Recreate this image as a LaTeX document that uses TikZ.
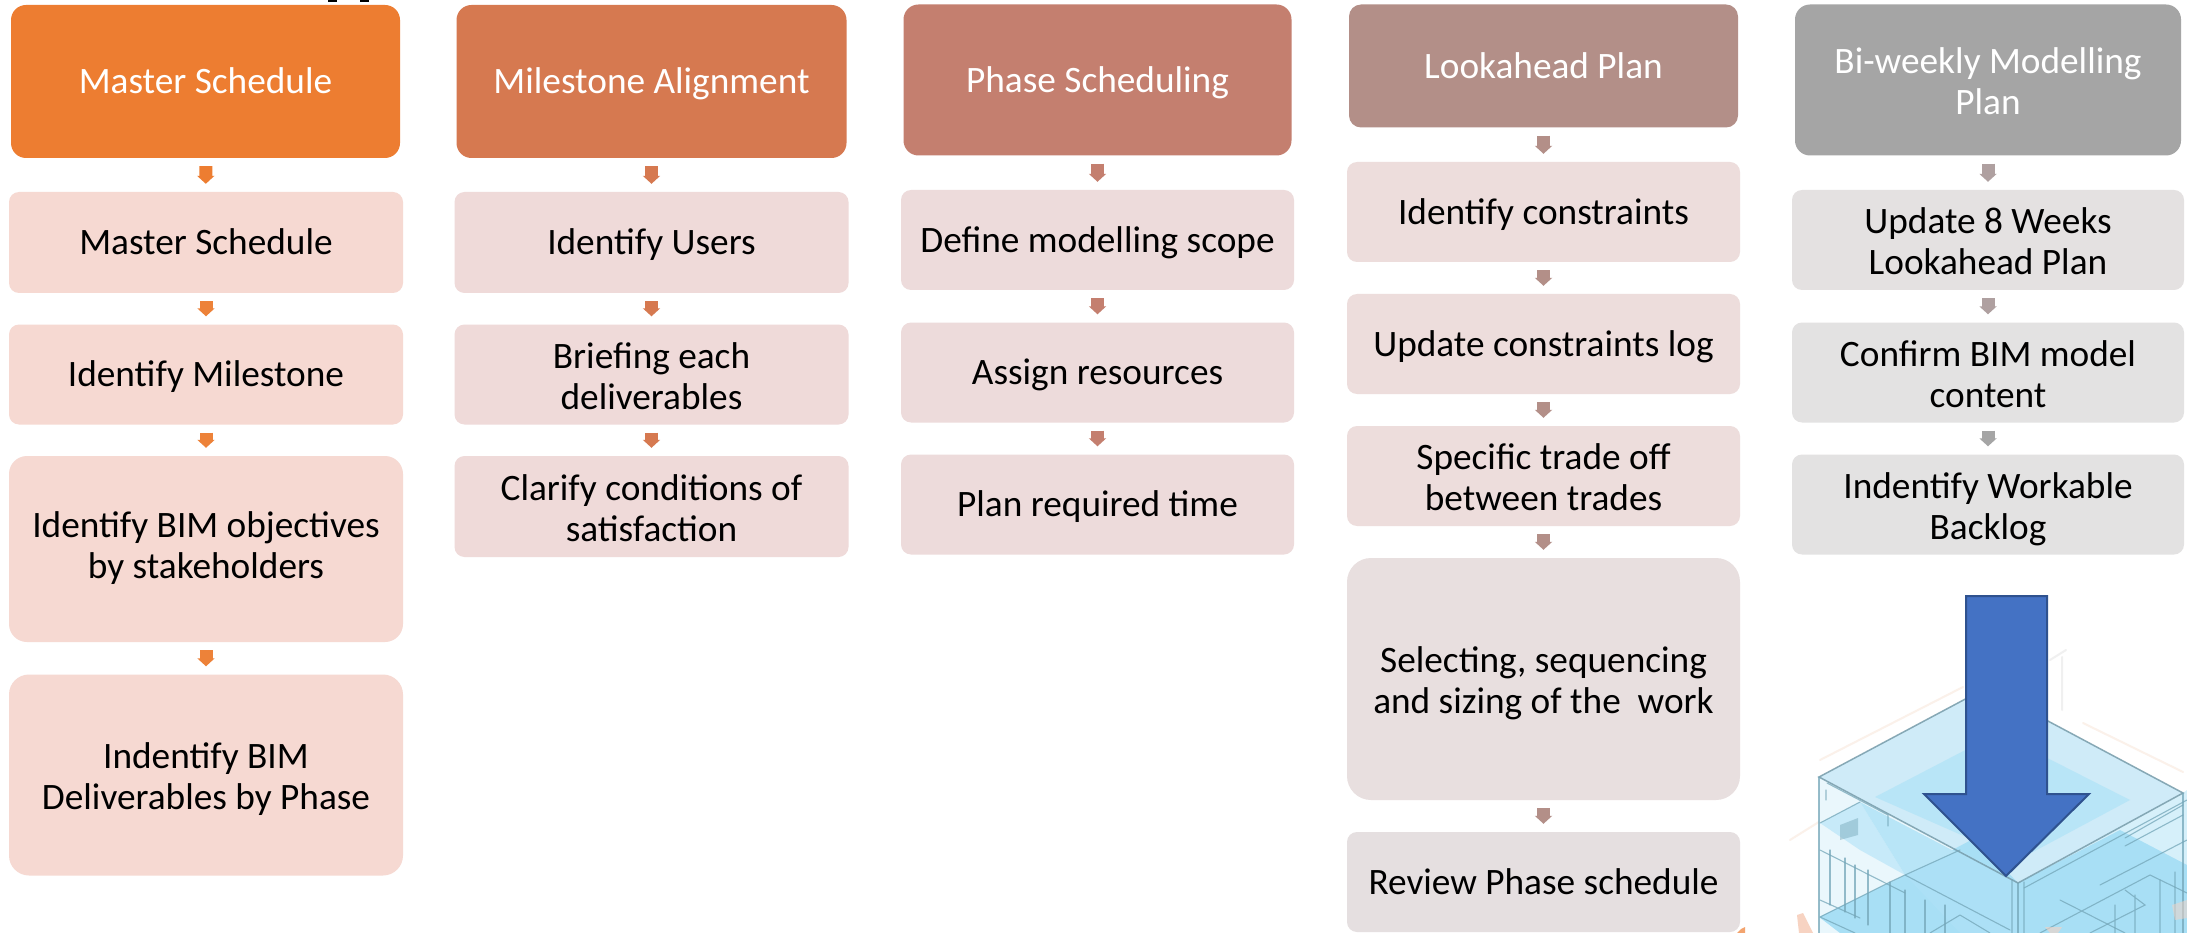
\documentclass[tikz,border=0pt]{standalone}
\usepackage{fontspec}
\setmainfont{Carlito}
\usetikzlibrary{arrows.meta}
\newcommand{\linestrut}{\rule[-8pt]{0pt}{40.5pt}}
\newcommand{\lowertext}{\rule{0pt}{36pt}}
\tikzset{
  basebox/.style n args={5}{shape=rectangle,fill=#1,text=#2,minimum width=#3,minimum height=#4,rounded corners=#5,inner sep=0pt,align=center,
    font=\fontsize{37.3}{41}\selectfont,execute at begin node={\linestrut},execute at end node={\linestrut}},
  headbox/.style n args={4}{basebox={#1}{white}{#2}{#3}{#4}},
  subbox/.style n args={4}{basebox={#1}{black}{#2}{#3}{#4}},
  flow/.style={draw=#1,line width=13pt,shorten <=8pt,shorten >=8pt,-{Triangle[length=8pt,width=17pt]}},
  wire/.style={draw=#1,line width=1.1pt,line cap=round},
  wire/.default={BuildLine},
  halo/.style={draw=#1,line width=2pt,line cap=round},
}
\definecolor{HA}{HTML}{ED7D31}\definecolor{HB}{HTML}{D67950}\definecolor{HC}{HTML}{C47F6F}\definecolor{HD}{HTML}{B38F88}\definecolor{HE}{HTML}{A5A5A5}
\definecolor{SA}{HTML}{F6D9D2}\definecolor{SB}{HTML}{EFDAD9}\definecolor{SC}{HTML}{EDDBDB}\definecolor{SD}{HTML}{EDDDDC}\definecolor{SDb}{HTML}{E8DFDF}\definecolor{SDc}{HTML}{E5DFE0}\definecolor{SE}{HTML}{E4E1E1}\definecolor{SEb}{HTML}{E3E2E2}
\definecolor{AE}{HTML}{AFA0A0}
\definecolor{BuildLine}{HTML}{74A6B8}
\definecolor{RoofA}{HTML}{CFEBF8}\definecolor{RoofB}{HTML}{B8E5F7}\definecolor{PlateA}{HTML}{A8DFF5}\definecolor{WallL}{HTML}{EAF7FC}\definecolor{WallR}{HTML}{D6F0FA}
\definecolor{Peach}{HTML}{F7D3C2}\definecolor{HaloW}{HTML}{FBF1EA}
\begin{document}
\begin{tikzpicture}[x=1pt,y=-1pt]
\useasboundingbox (0,0) rectangle (2187,933);
\fill[white] (0,0) rectangle (2187,933);
% clipped title remnants
\fill[black] (328,0) rectangle (337,2);
\fill[black] (360,0) rectangle (369,2);
% building image
\draw[halo=HaloW] (1820,760) -- (1963,687) (2083,723) -- (2183,772) (1790,840) -- (1830,815);
\draw[halo=gray!12] (2062,657) -- (2062,710) (2050,660) -- (2066,650);
\begin{scope}
\clip (1790,640) rectangle (2187,933);
\coordinate (A) at (1986,688);\coordinate (L) at (1819,777);\coordinate (R) at (2183,793);\coordinate (F) at (2018,883);
\fill[WallL] (L) -- (F) -- (2018,933) -- (1819,933) -- cycle;
\fill[WallR] (F) -- (R) -- (2187,790) -- (2187,933) -- (2018,933) -- cycle;
\fill[RoofA] (A) -- (R) -- (F) -- (L) -- cycle;
\fill[RoofB] (1875,797) -- (1998,733) -- (2130,800) -- (2018,860) -- cycle;
\fill[PlateA] (1819,917) -- (1905,875) -- (1975,838) -- (2018,883) -- (2120,830) -- (2187,865) -- (2187,933) -- (1840,933) -- cycle;
\fill[RoofB!70!WallL] (1820,823) -- (1860,802) -- (1905,875) -- (1860,850) -- cycle;
\fill[RoofB] (1860,802) -- (1975,862) -- (1905,875) -- cycle;
\fill[PlateA!75!RoofB] (1905,875) -- (1960,850) -- (2018,883) -- (2018,933) -- (1960,933) -- cycle;
% outline
\draw[wire={BuildLine!75!gray},line width=1.5pt,opacity=.85] (L) -- (A) -- (R) -- (F) -- cycle;
\begin{scope}[opacity=.75]
\draw[wire] (L) -- (1819,933) (F) -- (2018,933) (2183,793) -- (2183,933);
\draw[wire] (1827,783) -- (1888,815) -- (1888,826) (1826,790) -- (1826,800);
\draw[wire] (2012,880) -- (2012,933) (2024,882) -- (2024,933) (1820,823) -- (1860,802) (1820,850) -- (1905,893);
\draw[wire] (1820,917) -- (1890,882) -- (1905,875) -- (1960,850) (1820,917) -- (1855,933) (1820,900) -- (1860,918);
\draw[wire] (1830,850) -- (1830,905) (1845,858) -- (1845,912) (1855,865) -- (1855,918) (1868,870) -- (1868,925);
\draw[wire] (1890,882) -- (1890,933) (1905,890) -- (1905,933) (1925,900) -- (1925,933) (1945,905) -- (1945,933);
\draw[wire] (1905,875) -- (2010,930) (1960,915) -- (1990,933) (1930,933) -- (1960,915);
\draw[wire] (2024,888) -- (2187,800) (2040,933) -- (2150,875) -- (2187,893) (2060,900) -- (2125,933) (2100,885) -- (2187,840);
\draw[wire] (2090,933) -- (2145,905) -- (2125,890) (2115,905) -- (2115,933) (2135,895) -- (2135,933) (2160,880) -- (2160,933) (2175,872) -- (2175,933);
\draw[wire] (2125,838) -- (2183,805) (2125,846) -- (2183,815);
\end{scope}
\fill[BuildLine,opacity=.45] (1840,825) -- (1858,818) -- (1858,835) -- (1840,840) -- cycle;
\fill[Peach,opacity=.6] (2045,927) -- (2062,927) -- (2058,933) -- (2050,933) -- cycle;
\fill[Peach,opacity=.5] (2172,905) -- (2187,900) -- (2187,918) -- (2175,920) -- cycle;
\end{scope}
\fill[Peach] (1797,915) -- (1803,913) -- (1813,933) -- (1799,933) -- cycle;
\fill[HA!70!white] (1737,933) -- (1741,929) -- (1745,927) -- (1745,933) -- cycle;
% column 1
\node[headbox={HA}{389pt}{153pt}{15pt}] (a0) at (205.5,81.5) {Master Schedule};
\node[subbox={SA}{394pt}{101pt}{10pt}] (a1) at (206,242.5) {Master Schedule};
\node[subbox={SA}{394pt}{100pt}{10pt}] (a2) at (206,374.5) {Identify Milestone};
\node[subbox={SA}{394pt}{186pt}{18pt}] (a3) at (206,549) {Identify BIM objectives\\by stakeholders};
\node[subbox={SA}{394pt}{201pt}{20pt}] (a4) at (206,775) {\lowertext Indentify BIM\\Deliverables by Phase};
% column 2
\node[headbox={HB}{390pt}{153pt}{15pt}] (b0) at (651.5,81.5) {Milestone Alignment};
\node[subbox={SB}{394pt}{101pt}{10pt}] (b1) at (651.5,242.5) {Identify Users};
\node[subbox={SB}{394pt}{100pt}{10pt}] (b2) at (651.5,374.5) {\lowertext Briefing each\\deliverables};
\node[subbox={SB}{394pt}{101pt}{10pt}] (b3) at (651.5,506.5) {\lowertext Clarify conditions of\\satisfaction};
% column 3
\node[headbox={HC}{388pt}{151pt}{15pt}] (c0) at (1097.5,80) {Phase Scheduling};
\node[subbox={SC}{393pt}{100pt}{10pt}] (c1) at (1097.5,240) {Define modelling scope};
\node[subbox={SC}{393pt}{100pt}{10pt}] (c2) at (1097.5,372.5) {Assign resources};
\node[subbox={SC}{393pt}{100pt}{10pt}] (c3) at (1097.5,504.5) {Plan required time};
% column 4
\node[headbox={HD}{389pt}{123pt}{12pt}] (d0) at (1543.5,66) {Lookahead Plan};
\node[subbox={SD}{393pt}{100pt}{10pt}] (d1) at (1543.5,212) {Identify constraints};
\node[subbox={SD}{393pt}{100pt}{10pt}] (d2) at (1543.5,344) {Update constraints log};
\node[subbox={SD}{393pt}{100pt}{10pt}] (d3) at (1543.5,476) {\lowertext Specific trade off\\between trades};
\node[subbox={SDb}{393pt}{242pt}{24pt}] (d4) at (1543.5,679) {\lowertext Selecting, sequencing\\and sizing of the\ \ work};
\node[subbox={SDc}{393pt}{100pt}{10pt}] (d5) at (1543.5,882) {Review Phase schedule};
% column 5
\node[headbox={HE}{386pt}{151pt}{15pt}] (e0) at (1988,80) {\lowertext Bi-weekly Modelling\\Plan};
\node[subbox={SE}{392pt}{100pt}{10pt}] (e1) at (1988,240) {\lowertext Update 8 Weeks\\Lookahead Plan};
\node[subbox={SEb}{392pt}{100pt}{10pt}] (e2) at (1988,372.5) {\lowertext Confirm BIM model\\content};
\node[subbox={SEb}{392pt}{100pt}{10pt}] (e3) at (1988,504.5) {\lowertext Indentify Workable\\Backlog};
% connectors
\draw[flow=HA] (a0) -- (a1);
\draw[flow=HA!95!SA] (a1) -- (a2);
\draw[flow=HA!95!SA] (a2) -- (a3);
\draw[flow=HA!95!SA] (a3) -- (a4);
\draw[flow=HB] (b0) -- (b1);
\draw[flow=HB] (b1) -- (b2);
\draw[flow=HB] (b2) -- (b3);
\draw[flow=HC] (c0) -- (c1);
\draw[flow=HC] (c1) -- (c2);
\draw[flow=HC] (c2) -- (c3);
\draw[flow=HD] (d0) -- (d1);
\draw[flow=HD] (d1) -- (d2);
\draw[flow=HD] (d2) -- (d3);
\draw[flow=HD] (d3) -- (d4);
\draw[flow=HD] (d4) -- (d5);
\draw[flow=AE] (e0) -- (e1);
\draw[flow=AE] (e1) -- (e2);
\draw[flow=HE] (e2) -- (e3);
% big blue arrow
\draw[fill={rgb,255:red,68;green,114;blue,196},draw={rgb,255:red,47;green,82;blue,143},line width=2pt,line join=miter]
  (1966,596) -- (2047,596) -- (2047,794) -- (2089,794) -- (2006,876) -- (1924,794) -- (1966,794) -- cycle;
\end{tikzpicture}
\end{document}
